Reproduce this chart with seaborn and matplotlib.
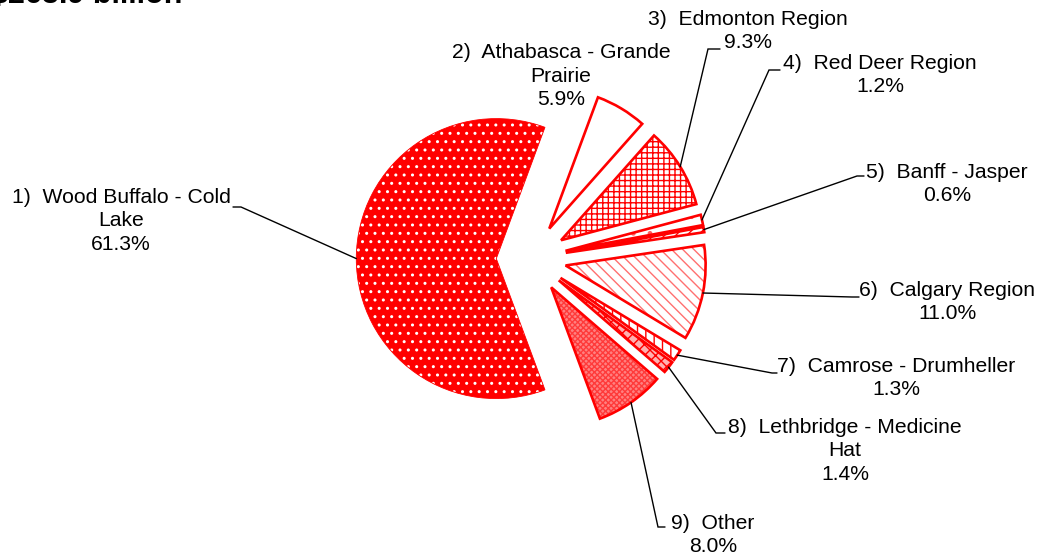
import textwrap
import numpy as np
import matplotlib
matplotlib.use("Agg")
import matplotlib.pyplot as plt
import seaborn as sns

# Project value share by economic region
regions = [
    "Wood Buffalo - Cold Lake",
    "Athabasca - Grande Prairie",
    "Edmonton Region",
    "Red Deer Region",
    "Banff - Jasper",
    "Calgary Region",
    "Camrose - Drumheller",
    "Lethbridge - Medicine Hat",
    "Other",
]
shares = [61.3, 5.9, 9.3, 1.2, 0.6, 11.0, 1.3, 1.4, 8.0]
title_text = "$263.9 billion"

sns.set_theme(style="white")
plt.rcParams["font.family"] = ["Liberation Sans", "DejaVu Sans"]

W, H = 1042, 558
fig = plt.figure(figsize=(W / 100, H / 100), dpi=100)
ax = fig.add_axes([0, 0, 1, 1])

# pie centre and radius in pixels
CX, CY, R = 531.3, 258.6, 140.0


def px(x, y):
    """pixel position (from top-left) -> data units of the pie axes"""
    return (x - CX) / R, (CY - y) / R


RED = "#ff0000"
faces = [RED, "white", "white", "white", "white", "white", "white", "#ffb0b0", "#ff8080"]
hatches = ["..", None, "+++", ".", "///", "\\\\\\", "||", "xxx", "xxxxxx"]
hatch_cols = ["white", RED, RED, "#ff6060", RED, "#ff7070", RED, RED, "#ff3a3a"]

explode = [0.25] * len(shares)
start = 180 + shares[0] * 3.6 / 2

# filled wedges carrying the patterns
plt.rcParams["hatch.linewidth"] = 1.0
wedges, _ = ax.pie(shares, explode=explode, startangle=start, counterclock=False,
                   radius=1.0, wedgeprops=dict(linewidth=0))
for w, fc, h, hc in zip(wedges, faces, hatches, hatch_cols):
    w.set_facecolor(fc)
    w.set_edgecolor(hc)
    w.set_linewidth(0)
    if h:
        w.set_hatch(h)

# red outlines on top
outl, _ = ax.pie(shares, explode=explode, startangle=start, counterclock=False,
                 radius=1.0, wedgeprops=dict(fill=False, edgecolor=RED, linewidth=1.9))
outl[0].set_linewidth(0.6)

# label layout: text centre (px), leader elbow and end (px)
label_pos = [(121, 221), (561, 76), (748, 31), (880, 75), (947, 184),
             (947, 302), (896, 378), (845, 451), (713, 535)]
wrap_width = [23, 22, 30, 30, 30, 30, 30, 25, 30]
elbows = [((241, 207), (233, 207)), None, ((708, 49), (720, 49)),
          ((769, 70), (780, 70)), ((857, 176), (864, 176)),
          ((852, 297), (859, 297)), ((772, 373), (777, 373)),
          ((716, 433), (725, 433)), ((658, 527), (665, 527))]

for i, (name, val) in enumerate(zip(regions, shares)):
    txt = textwrap.fill(f"{i + 1})  {name}", width=wrap_width[i]) + f"\n{val:.1f}%"
    tx, ty = px(*label_pos[i])
    ax.text(tx, ty, txt, ha="center", va="center", fontsize=15.2,
            color="#000000", linespacing=1.3, multialignment="center")
    if elbows[i] is None:
        continue
    w = wedges[i]
    mid = np.deg2rad((w.theta1 + w.theta2) / 2)
    ax0 = w.center[0] + w.r * np.cos(mid)
    ay0 = w.center[1] + w.r * np.sin(mid)
    (ex, ey), (fx, fy) = [px(*p) for p in elbows[i]]
    ax.plot([ax0, ex, fx], [ay0, ey, fy], color="black", lw=1.0,
            solid_joinstyle="miter", zorder=5)

ax.set_xlim((0 - CX) / R, (W - CX) / R)
ax.set_ylim((CY - H) / R, CY / R)
ax.set_aspect("equal", adjustable="box")
ax.axis("off")

fig.text(-9 / W, 1 - 2.5 / H, title_text, ha="left", va="baseline",
         fontsize=22, fontweight="bold", color="black")

fig.savefig("out.png", dpi=100, facecolor="white")
